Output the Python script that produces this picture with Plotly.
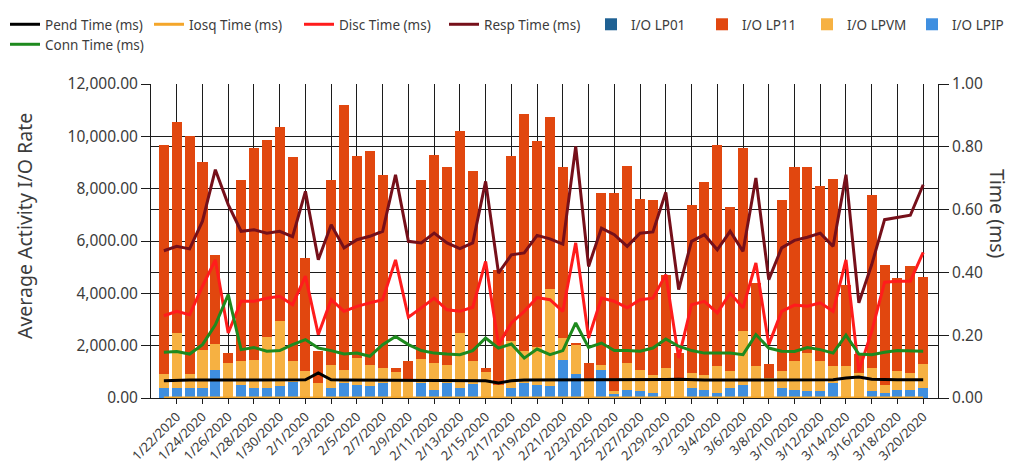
import datetime as dt
import plotly.graph_objects as go

# ---- categories ----
start = dt.date(2020, 1, 21)
dates = [(start + dt.timedelta(days=i)) for i in range(60)]
date_labels = [f"{d.month}/{d.day}/{d.year}" for d in dates]
tick_labels = date_labels[1::2]

# ---- I/O rate series (stacked bars) ----
io_lpip = [400, 400, 400, 400, 1080, 0, 510, 380, 400, 450,
           600, 0, 0, 380, 570, 510, 450, 570, 0, 0,
           570, 320, 570, 380, 530, 0, 0, 380, 570, 500,
           450, 1460, 920, 0, 1080, 190, 320, 250, 190, 0,
           0, 380, 320, 190, 380, 510, 0, 0, 380, 320,
           250, 250, 570, 0, 0, 250, 190, 320, 320, 380]
io_lp01 = [0] * 60
io_lpvm = [500, 2100, 500, 1450, 1000, 1340, 900, 1080, 1950, 2480,
           800, 1020, 570, 890, 510, 1020, 820, 580, 1000, 700,
           930, 1020, 700, 2100, 870, 1000, 500, 1780, 1210, 1450,
           3700, 850, 1120, 640, 190, 70, 1020, 830, 700, 1150,
           700, 570, 570, 1020, 640, 2040, 1210, 750, 640, 1080,
           1470, 1150, 640, 1210, 950, 900, 300, 700, 640, 920]
io_lp11 = [8780, 8050, 9125, 7160, 3380, 380, 6935, 8095, 7520, 7415,
           7800, 4330, 1215, 7075, 10130, 7705, 8155, 7360, 150, 730,
           6845, 7960, 7545, 7737, 7263, 150, 4400, 7100, 9086, 7870,
           6577, 6505, 60, 698, 6565, 7575, 7513, 6540, 6690, 3562,
           1020, 6440, 7350, 8470, 6267, 7005, 3185, 540, 6560, 7415,
           7095, 6715, 7160, 3090, 730, 6595, 4606, 3566, 4097, 3312]

# ---- time series (ms, right axis) ----
pend_ms = [0.055, 0.057, 0.057, 0.057, 0.058, 0.057, 0.057, 0.057, 0.057, 0.057,
           0.057, 0.058, 0.080, 0.058, 0.057, 0.057, 0.057, 0.057, 0.057, 0.057,
           0.057, 0.057, 0.057, 0.057, 0.057, 0.055, 0.048, 0.055, 0.057, 0.057,
           0.057, 0.057, 0.058, 0.057, 0.057, 0.057, 0.057, 0.057, 0.058, 0.059,
           0.060, 0.058, 0.057, 0.057, 0.057, 0.057, 0.057, 0.058, 0.057, 0.057,
           0.057, 0.057, 0.058, 0.064, 0.067, 0.060, 0.058, 0.058, 0.058, 0.058]
iosq_ms = [0.0] * 60
disc_ms = [0.262, 0.276, 0.265, 0.356, 0.440, 0.207, 0.308, 0.308, 0.318, 0.324,
           0.297, 0.388, 0.202, 0.313, 0.276, 0.292, 0.303, 0.313, 0.440, 0.257,
           0.287, 0.318, 0.281, 0.276, 0.289, 0.435, 0.170, 0.239, 0.276, 0.320,
           0.313, 0.276, 0.494, 0.191, 0.318, 0.308, 0.287, 0.313, 0.318, 0.393,
           0.127, 0.297, 0.308, 0.271, 0.334, 0.287, 0.430, 0.170, 0.276, 0.296,
           0.292, 0.303, 0.276, 0.440, 0.085, 0.212, 0.369, 0.372, 0.372, 0.464]
resp_ms = [0.469, 0.483, 0.475, 0.563, 0.727, 0.616, 0.531, 0.536, 0.525, 0.531,
           0.514, 0.658, 0.440, 0.552, 0.478, 0.504, 0.515, 0.531, 0.711, 0.499,
           0.494, 0.525, 0.494, 0.476, 0.494, 0.690, 0.398, 0.456, 0.462, 0.518,
           0.507, 0.490, 0.801, 0.419, 0.541, 0.520, 0.483, 0.525, 0.529, 0.655,
           0.345, 0.499, 0.520, 0.472, 0.531, 0.467, 0.701, 0.377, 0.478, 0.502,
           0.512, 0.525, 0.483, 0.711, 0.303, 0.425, 0.568, 0.575, 0.582, 0.679]
conn_ms = [0.146, 0.148, 0.140, 0.170, 0.233, 0.329, 0.154, 0.161, 0.149, 0.151,
           0.170, 0.186, 0.159, 0.151, 0.140, 0.143, 0.133, 0.170, 0.196, 0.170,
           0.151, 0.143, 0.140, 0.138, 0.151, 0.191, 0.159, 0.172, 0.127, 0.156,
           0.138, 0.151, 0.239, 0.161, 0.175, 0.151, 0.151, 0.149, 0.159, 0.188,
           0.165, 0.151, 0.143, 0.143, 0.143, 0.138, 0.202, 0.159, 0.149, 0.148,
           0.161, 0.154, 0.143, 0.200, 0.140, 0.138, 0.146, 0.151, 0.151, 0.149]

left_ticks = [0, 2000, 4000, 6000, 8000, 10000, 12000]
right_ticks = [0, 0.2, 0.4, 0.6, 0.8, 1.0]

FONT = "Noto Sans"
GRID = "#1c1c1c"
TXT = "#3c3c3c"

W, H = 1018, 473
L, R, T, B = 143, 88, 76, 83
pw, ph = W - L - R, H - T - B

def px_x(p):
    return (p - L) / pw

def px_y(p):
    return (H - B - p) / ph

# legend slot for each series: (legend id, text start x px, row top y px)
LEG_OFF = 49
fig = go.Figure()

bars = [
    ("I/O LPIP", io_lpip, "#3F8FE0", "legend8", 953, 1),
    ("I/O LP01", io_lp01, "#1F6193", "legend5", 632, 1),
    ("I/O LPVM", io_lpvm, "#F6B142", "legend7", 848, 1),
    ("I/O LP11", io_lp11, "#E1470F", "legend6", 743, 1),
]
lines = [
    ("Pend Time (ms)", pend_ms, "#000000", "legend10", 46, 1),
    ("Iosq Time (ms)", iosq_ms, "#F4A62A", "legend2", 190, 1),
    ("Disc Time (ms)", disc_ms, "#FF1C1C", "legend3", 340, 1),
    ("Resp Time (ms)", resp_ms, "#76101A", "legend4", 485, 1),
    ("Conn Time (ms)", conn_ms, "#1E8A1E", "legend9", 46, 21),
]

legend_font = dict(family=FONT, size=13.5, color=TXT)
legend_layouts = {}

for name, vals, col, leg, tx, ty in bars:
    fig.add_trace(go.Bar(x=date_labels, y=vals, name=name, yaxis="y",
                         marker=dict(color=col, line=dict(width=0)), legend=leg))
    legend_layouts[leg] = dict(orientation="h", x=px_x(tx - LEG_OFF), xanchor="left",
                               y=px_y(ty), yanchor="top", font=legend_font,
                               bgcolor="rgba(0,0,0,0)")

for name, vals, col, leg, tx, ty in lines:
    fig.add_trace(go.Scatter(x=date_labels, y=vals, name=name, yaxis="y2",
                             mode="lines", line=dict(color=col, width=3), legend=leg))
    legend_layouts[leg] = dict(orientation="h", x=px_x(tx - LEG_OFF), xanchor="left",
                               y=px_y(ty), yanchor="top", font=legend_font,
                               bgcolor="rgba(0,0,0,0)")

fig.update_layout(**legend_layouts)

fig.update_layout(
    width=W, height=H,
    margin=dict(l=L, r=R, t=T, b=B, autoexpand=False),
    paper_bgcolor="white", plot_bgcolor="white",
    barmode="stack", bargap=0.22, showlegend=True,
    font=dict(family=FONT, color=TXT),
    xaxis=dict(type="category", range=[-1.0, 60.15], tickmode="array",
               tickvals=tick_labels, ticktext=tick_labels, tickangle=-45,
               tickfont=dict(family=FONT, size=13, color=TXT),
               showgrid=True, gridcolor=GRID, gridwidth=1,
               ticks="outside", ticklen=5, tickcolor=GRID,
               showline=True, linecolor=GRID, linewidth=1, zeroline=False),
    yaxis=dict(range=[0, 12000], tickmode="array", tickvals=left_ticks,
               tickformat=",.2f", tickfont=dict(family=FONT, size=15.5, color=TXT),
               showgrid=True, gridcolor=GRID, gridwidth=1,
               ticks="outside", ticklen=9, tickcolor=GRID,
               showline=True, linecolor=GRID, zeroline=False),
    yaxis2=dict(range=[0, 1], overlaying="y", side="right", tickmode="array",
                tickvals=right_ticks, tickformat=".2f",
                tickfont=dict(family=FONT, size=15.5, color=TXT),
                showgrid=True, gridcolor=GRID, gridwidth=1,
                ticks="outside", ticklen=10, tickcolor=GRID,
                showline=True, linecolor=GRID, zeroline=False),
    annotations=[
        dict(text="Average Activity I/O Rate", textangle=-90, showarrow=False,
             xref="paper", yref="paper", x=px_x(16), y=px_y(218),
             xanchor="center", yanchor="middle",
             font=dict(family=FONT, size=19.5, color=TXT)),
        dict(text="Time (ms)", textangle=90, showarrow=False,
             xref="paper", yref="paper", x=px_x(990), y=px_y(206),
             xanchor="center", yanchor="middle",
             font=dict(family=FONT, size=19.5, color=TXT)),
    ],
)

fig.write_html("out.html")
